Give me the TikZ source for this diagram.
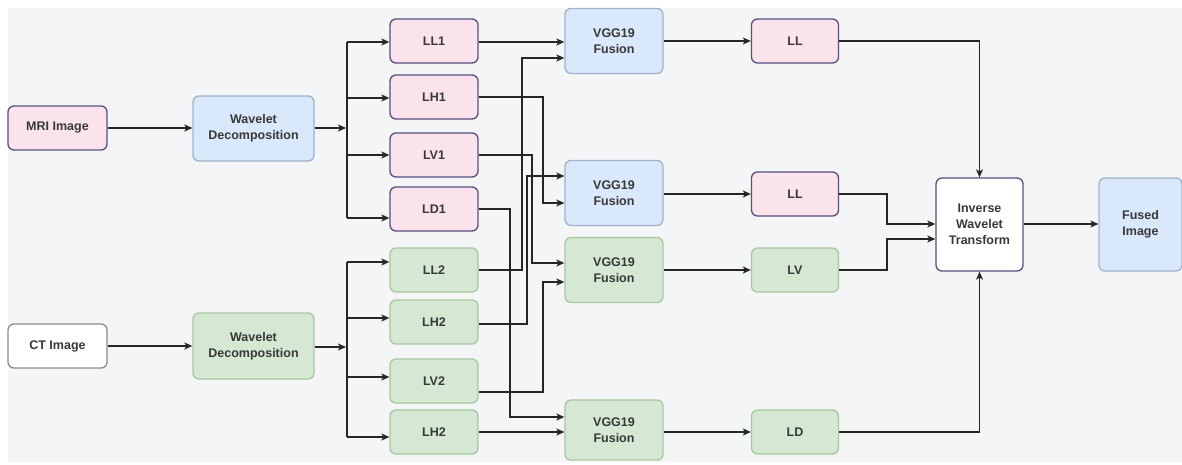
\documentclass[tikz,border=0pt]{standalone}
\usepackage{fontspec}
\setmainfont{Liberation Sans}
\usetikzlibrary{arrows.meta,calc}
\definecolor{bgC}{HTML}{F3F5F7}
\definecolor{pinkF}{HTML}{FBE3EC}
\definecolor{darkB}{HTML}{55507E}
\definecolor{blueF}{HTML}{DAE8FC}
\definecolor{blueB}{HTML}{9FB3CB}
\definecolor{greenF}{HTML}{D5E8D4}
\definecolor{greenB}{HTML}{A9C79E}
\definecolor{grayB}{HTML}{8C8C8C}
\definecolor{txtC}{HTML}{383838}
\definecolor{lineC}{HTML}{262626}
\tikzset{
  box/.style={rounded corners=6pt, line width=1.3pt, align=center, inner sep=0pt,
    font=\bfseries\fontsize{12.5}{16}\selectfont, text=txtC},
  pinkbox/.style={box, fill=pinkF, draw=darkB},
  bluebox/.style={box, fill=blueF, draw=blueB},
  greenbox/.style={box, fill=greenF, draw=greenB},
  whitebox/.style={box, fill=white, draw=grayB},
  iwtbox/.style={box, fill=white, draw=darkB},
  small/.style={minimum width=88pt, minimum height=44pt},
  fusebox/.style={minimum width=98pt, minimum height=65pt},
  ln/.style={line width=1.3pt, draw=lineC},
  conn/.style={ln, -{Stealth[length=8pt,width=7pt,inset=2pt]}}
}
\begin{document}
\begin{tikzpicture}[x=1pt,y=-1pt]
\useasboundingbox (0,0) rectangle (1182,464);
\fill[bgC] (8,8) rectangle (1182,462);
% inputs
\node[pinkbox, minimum width=99pt, minimum height=44pt] (mri) at (57.5,128) {MRI Image};
\node[whitebox, minimum width=99pt, minimum height=44pt] (ct) at (57.5,346) {CT Image};
\node[bluebox, minimum width=121pt, minimum height=65pt] (wd1) at (253.5,128.5) {Wavelet\\Decomposition};
\node[greenbox, minimum width=121pt, minimum height=66pt] (wd2) at (253.5,346) {Wavelet\\Decomposition};
% sub-bands
\node[pinkbox, small] (ll1) at (434,41) {LL1};
\node[pinkbox, small] (lh1) at (434,97) {LH1};
\node[pinkbox, small] (lv1) at (434,155) {LV1};
\node[pinkbox, small] (ld1) at (434,209) {LD1};
\node[greenbox, small] (ll2) at (434,270) {LL2};
\node[greenbox, small] (lh2) at (434,322) {LH2};
\node[greenbox, small] (lv2) at (434,381) {LV2};
\node[greenbox, small] (lh2b) at (434,432) {LH2};
% fusion
\node[bluebox, fusebox] (f1) at (614,41) {VGG19\\Fusion};
\node[bluebox, fusebox] (f2) at (614,193) {VGG19\\Fusion};
\node[greenbox, fusebox] (f3) at (614,270) {VGG19\\Fusion};
\node[greenbox, fusebox, minimum height=60pt] (f4) at (614,430) {VGG19\\Fusion};
% fused bands
\node[pinkbox, minimum width=87pt, minimum height=44pt] (ll) at (795,41) {LL};
\node[pinkbox, minimum width=87pt, minimum height=44pt] (llb) at (795,194) {LL};
\node[greenbox, minimum width=87pt, minimum height=44pt] (lv) at (795,270) {LV};
\node[greenbox, minimum width=87pt, minimum height=44pt] (ld) at (795,432) {LD};
% output
\node[iwtbox, minimum width=87pt, minimum height=93pt] (iwt) at (979.5,224.5) {Inverse\\Wavelet\\Transform};
\node[bluebox, minimum width=83pt, minimum height=93pt] (fused) at (1140.5,224.5) {Fused\\Image};
% split coordinates
\coordinate (s1) at (347,128);
\coordinate (s2) at (347,347);
% input connectors
\draw[conn] (mri) -- (wd1.west|-mri);
\draw[conn] (ct) -- (wd2.west|-ct);
\draw[conn] (wd1.east|-s1) -- ([xshift=-1pt]s1);
\draw[conn] (wd2.east|-s2) -- ([xshift=-1pt]s2);
\draw[ln] (s1|-0,42) -- (s1|-0,218);
\draw[ln] (s2|-0,262) -- (s2|-0,437);
\draw[conn] (s1|-0,42) -- (ll1.west|-0,42);
\draw[conn] (s1|-0,98) -- (lh1.west|-0,98);
\draw[conn] (s1|-0,155) -- (lv1.west|-0,155);
\draw[conn] (s1|-0,218) -- (ld1.west|-0,218);
\draw[conn] (s2|-0,262) -- (ll2.west|-0,262);
\draw[conn] (s2|-0,318) -- (lh2.west|-0,318);
\draw[conn] (s2|-0,377) -- (lv2.west|-0,377);
\draw[conn] (s2|-0,437) -- (lh2b.west|-0,437);
% to fusion
\draw[conn] (ll1.east|-0,42) -- (f1.west|-0,42);
\draw[conn] (ll2.east) -| (522,58) -- (f1.west|-0,58);
\draw[conn] (lh1.east) -| (543,203) -- (f2.west|-0,203);
\draw[conn] (lh2.east|-0,324) -| (527,176) -- (f2.west|-0,176);
\draw[conn] (lv1.east) -| (532,263) -- (f3.west|-0,263);
\draw[conn] (lv2.east|-0,392) -| (543,282) -- (f3.west|-0,282);
\draw[conn] (ld1.east) -| (510,417) -- (f4.west|-0,417);
\draw[conn] (lh2b.east) -- (f4.west|-lh2b);
% fusion outputs
\draw[conn] (f1.east|-ll) -- (ll.west);
\draw[conn] (f2.east|-llb) -- (llb.west);
\draw[conn] (f3.east|-lv) -- (lv.west);
\draw[conn] (f4.east|-ld) -- (ld.west);
% to inverse transform
\draw[conn] (ll.east) -| (iwt.north);
\draw[conn] (llb.east) -| (887,224) -- (iwt.west|-0,224);
\draw[conn] (lv.east) -| (887,239) -- (iwt.west|-0,239);
\draw[conn] (ld.east) -| (iwt.south);
\draw[conn] (iwt.east|-0,224) -- (fused.west|-0,224);
\end{tikzpicture}
\end{document}
